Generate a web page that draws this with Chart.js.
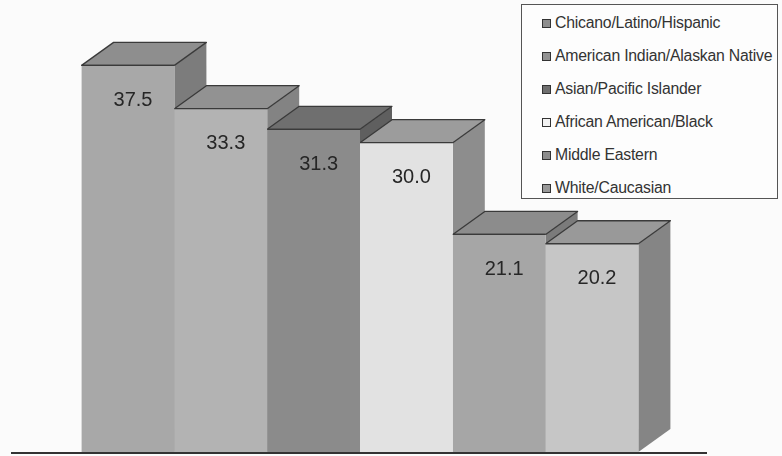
<!DOCTYPE html>
<html>
<head>
<meta charset="utf-8">
<script src="https://cdn.jsdelivr.net/npm/chart.js@4/dist/chart.umd.min.js"></script>
<style>
  html, body { margin: 0; padding: 0; background: #fbfbfb; }
  #wrap { position: relative; width: 782px; height: 456px; }
  #legend {
    position: absolute; left: 521px; top: 4px; width: 257px; height: 195px;
    border: 1px solid #555; background: #fdfdfd; box-sizing: border-box;
    font-family: "Liberation Sans", Arial, sans-serif; font-size: 15.8px; color: #333;
  }
  .item { position: absolute; left: 0; height: 18px; line-height: 18px; white-space: nowrap; }
  .swatch {
    position: absolute; left: 20px; top: 5px; width: 7px; height: 7px;
    border: 1px solid #333;
  }
  .txt { position: absolute; left: 33px; top: 0; letter-spacing: -0.22px; }
</style>
</head>
<body>
<div id="wrap">
  <canvas id="chart" width="782" height="456"></canvas>
  <div id="legend"></div>
</div>
<script>
// Groups shown, one bar each
const categories = [
  'Chicano/Latino/Hispanic',
  'American Indian/Alaskan Native',
  'Asian/Pacific Islander',
  'African American/Black',
  'Middle Eastern',
  'White/Caucasian'
];
const values = [37.5, 33.3, 31.3, 30.0, 21.1, 20.2];

// Shading of each block: front, top and right faces
const frontColors = ['#a8a8a8', '#b3b3b3', '#8b8b8b', '#e2e2e2', '#a6a6a6', '#c6c6c6'];
const topColors   = ['#8e8e8e', '#929292', '#6f6f6f', '#9c9c9c', '#8c8c8c', '#999999'];
const sideColors  = ['#7c7c7c', '#838383', '#5f5f5f', '#8d8d8d', '#7b7b7b', '#858585'];

const DEPTH_X = 32, DEPTH_Y = 23;

// Side and top faces go under the fronts; each block covers the one to its left
const blockFaces = {
  id: 'blockFaces',
  beforeDatasetsDraw(chart) {
    const ctx = chart.ctx;
    ctx.save();
    chart.data.datasets.forEach((ds, i) => {
      const bar = chart.getDatasetMeta(i).data[0];
      const l = bar.x - bar.width / 2, r = bar.x + bar.width / 2;
      const t = bar.y, b = bar.base;
      // right face
      ctx.beginPath();
      ctx.moveTo(r, t);
      ctx.lineTo(r + DEPTH_X, t - DEPTH_Y);
      ctx.lineTo(r + DEPTH_X, b - DEPTH_Y);
      ctx.lineTo(r, b);
      ctx.closePath();
      ctx.fillStyle = sideColors[i];
      ctx.fill();
      // top face
      ctx.beginPath();
      ctx.moveTo(l, t);
      ctx.lineTo(l + DEPTH_X, t - DEPTH_Y);
      ctx.lineTo(r + DEPTH_X, t - DEPTH_Y);
      ctx.lineTo(r, t);
      ctx.closePath();
      ctx.fillStyle = topColors[i];
      ctx.fill();
      ctx.lineWidth = 1.3;
      ctx.strokeStyle = '#3a3a3a';
      ctx.lineJoin = 'round';
      ctx.stroke();
    });
    ctx.restore();
  },
  afterDatasetsDraw(chart) {
    const ctx = chart.ctx;
    ctx.save();
    chart.data.datasets.forEach((ds, i) => {
      const bar = chart.getDatasetMeta(i).data[0];
      // front top edge
      ctx.beginPath();
      ctx.moveTo(bar.x - bar.width / 2, bar.y);
      ctx.lineTo(bar.x + bar.width / 2, bar.y);
      ctx.lineWidth = 1.3;
      ctx.strokeStyle = '#3a3a3a';
      ctx.stroke();
      // value label
      ctx.font = '20px "Liberation Sans", Arial, sans-serif';
      ctx.fillStyle = '#262626';
      ctx.textAlign = 'center';
      ctx.textBaseline = 'middle';
      ctx.fillText(ds.data[0].toFixed(1), bar.x + 5, bar.y + 35);
    });
    // floor line
    const area = chart.chartArea;
    ctx.beginPath();
    ctx.moveTo(area.left - 1, area.bottom + 1);
    ctx.lineTo(area.right - 1, area.bottom + 1);
    ctx.lineWidth = 2;
    ctx.strokeStyle = '#333';
    ctx.stroke();
    ctx.restore();
  }
};

new Chart(document.getElementById('chart'), {
  type: 'bar',
  data: {
    labels: [''],
    datasets: categories.map((name, i) => ({
      label: name,
      data: [values[i]],
      backgroundColor: frontColors[i],
      borderWidth: 0,
      barPercentage: 1,
      categoryPercentage: 0.8
    }))
  },
  options: {
    responsive: false,
    animation: false,
    layout: { padding: { left: 12, right: 74, top: 19, bottom: 4 } },
    scales: {
      x: { display: false },
      y: { display: false, min: 0, max: 42 }
    },
    plugins: { legend: { display: false }, tooltip: { enabled: false } }
  },
  plugins: [blockFaces]
});

// Legend box
const legend = document.getElementById('legend');
categories.forEach((name, i) => {
  const item = document.createElement('div');
  item.className = 'item';
  item.style.top = (9 + i * 33) + 'px';
  const sw = document.createElement('span');
  sw.className = 'swatch';
  sw.style.background = i === 3 ? '#f2f2f2' : topColors[i];
  const tx = document.createElement('span');
  tx.className = 'txt';
  tx.textContent = name;
  item.appendChild(sw);
  item.appendChild(tx);
  legend.appendChild(item);
});
</script>
</body>
</html>
